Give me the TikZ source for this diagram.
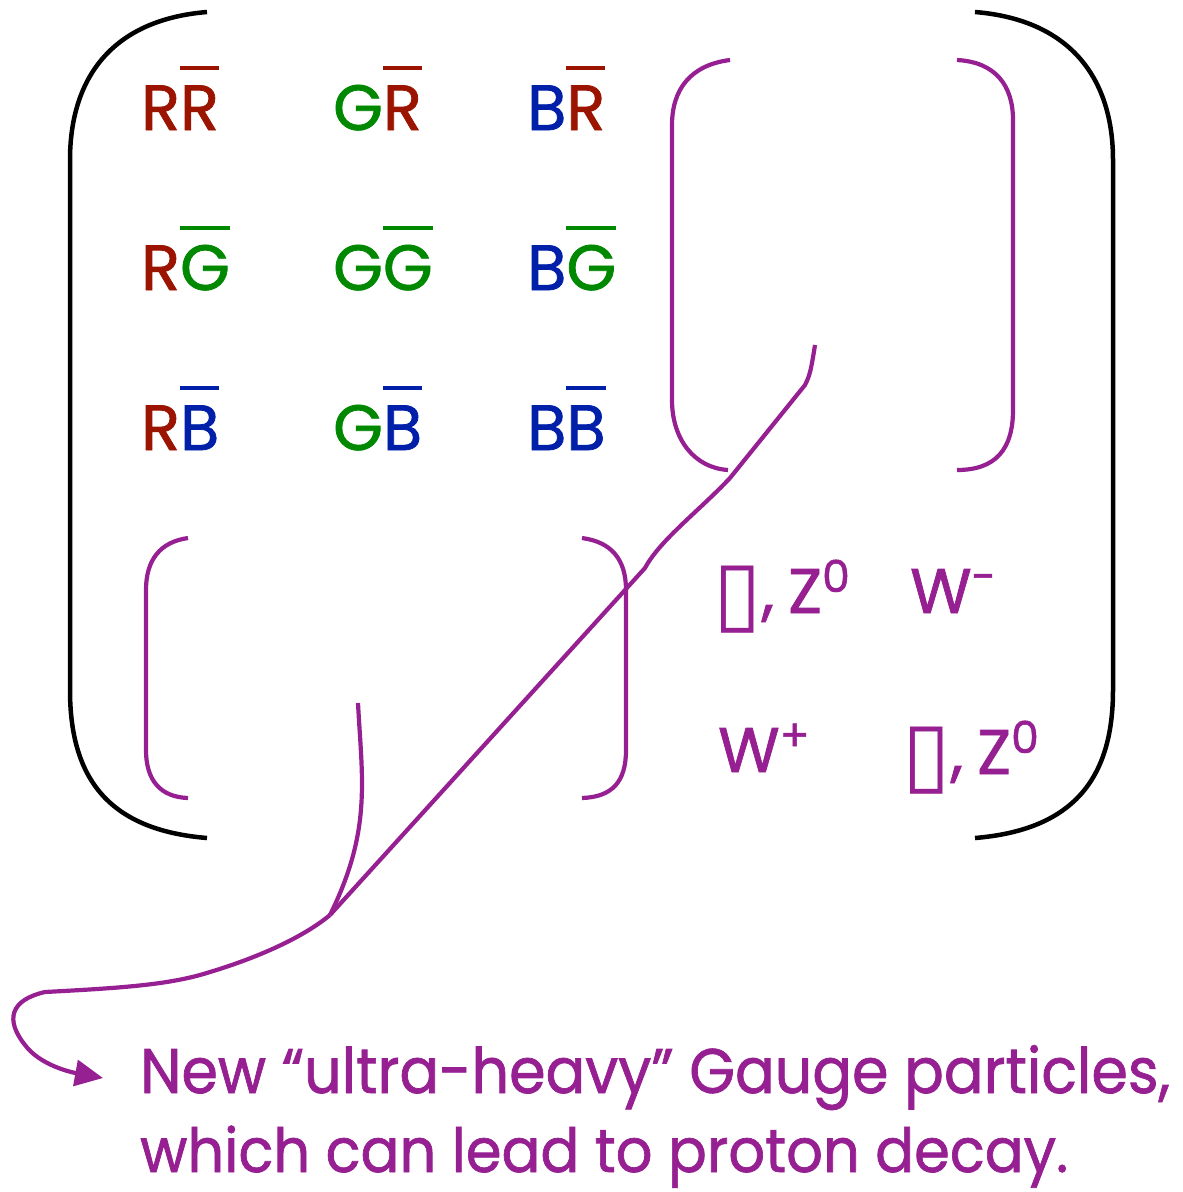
\documentclass[tikz,border=0pt]{standalone}
\usepackage{fontspec}
\setmainfont{Poppins}[FakeBold=1.2]
\newfontfamily\symfont{DejaVu Sans}
\usetikzlibrary{arrows.meta}
\definecolor{cred}{RGB}{155,20,0}
\definecolor{cgreen}{RGB}{0,136,0}
\definecolor{cblue}{RGB}{0,32,170}
\definecolor{cpurp}{RGB}{150,32,145}
\newcommand\obar[1]{\setbox0\hbox{#1}\rlap{\raisebox{60pt}{\rule{\wd0}{4pt}}}\box0}
\newcommand\supx[1]{\raisebox{21pt}{\fontsize{44}{44}\selectfont #1}}
\newcommand\boxg{{\symfont\fontsize{88}{88}\selectfont\raisebox{-9pt}{\char"25AF}}}
\begin{document}
\begin{tikzpicture}[x=1pt,y=-1pt,
  cell/.style={anchor=base west,inner sep=0pt,font=\fontsize{64}{64}\selectfont},
  lab/.style={anchor=base west,inner sep=0pt,text=cpurp,font=\fontsize{63}{63}\selectfont},
  big/.style={draw=black,line width=4.5pt},
  pbr/.style={draw=cpurp,line width=4.2pt},
  conn/.style={draw=cpurp,line width=4.2pt}]
\useasboundingbox (0,0) rectangle (1183,1192);
% black brackets
\path[big] (207,12) .. controls (110,20) and (70,80) .. (70,160) -- (70,690) .. controls (70,780) and (110,830) .. (207,838);
\path[big] (975,12) .. controls (1072,20) and (1113,80) .. (1113,160) -- (1113,690) .. controls (1113,780) and (1072,830) .. (975,838);
% purple brackets top right
\path[pbr] (730,60) .. controls (690,65) and (672,90) .. (672,125) -- (672,400) .. controls (672,440) and (695,468) .. (728,470);
\path[pbr] (957,60) .. controls (995,62) and (1013,85) .. (1013,120) -- (1013,410) .. controls (1013,450) and (995,470) .. (957,470);
% purple brackets lower left
\path[pbr] (188,538) .. controls (160,542) and (146,560) .. (146,590) -- (146,750) .. controls (146,780) and (160,797) .. (188,798);
\path[pbr] (582,538) .. controls (612,542) and (626,560) .. (626,590) -- (626,750) .. controls (626,782) and (612,797) .. (582,798);
% grid
\node[cell] (rr) at (141,130) {\textcolor{cred}{R}\textcolor{cred}{\obar{R}}};
\node[cell] (gr) at (333,130) {\textcolor{cgreen}{G}\textcolor{cred}{\obar{R}}};
\node[cell] (br) at (527,130) {\textcolor{cblue}{B}\textcolor{cred}{\obar{R}}};
\node[cell] (rg) at (141,290) {\textcolor{cred}{R}\textcolor{cgreen}{\obar{G}}};
\node[cell] (gg) at (333,290) {\textcolor{cgreen}{G}\textcolor{cgreen}{\obar{G}}};
\node[cell] (bg) at (527,290) {\textcolor{cblue}{B}\textcolor{cgreen}{\obar{G}}};
\node[cell] (rb) at (141,450) {\textcolor{cred}{R}\textcolor{cblue}{\obar{B}}};
\node[cell] (gb) at (333,450) {\textcolor{cgreen}{G}\textcolor{cblue}{\obar{B}}};
\node[cell] (bb) at (527,450) {\textcolor{cblue}{B}\textcolor{cblue}{\obar{B}}};
% purple labels
\node[lab] (gz1) at (713,613) {\boxg,\hspace{14pt}Z\supx{0}};
\node[lab] (wm) at (910,613) {W\supx{-}};
\node[lab] (wp) at (718,772) {W\supx{+}};
\node[lab] (gz2) at (902,774) {\boxg,\hspace{14pt}Z\supx{0}};
% bottom text
\node[lab] (l1) at (140,1093) {\resizebox{1030pt}{\height}{New “ultra-heavy” Gauge particles,}};
\node[lab,font=\fontsize{61}{61}\selectfont] (l2) at (140,1172) {\resizebox{928pt}{\height}{which can lead to proton decay.}};
% connectors
\coordinate (s1) at (815,345);
\coordinate (s2) at (358,703);
\coordinate (m) at (330,915);
\coordinate (tip) at ([xshift=-37pt,yshift=15pt]l1.base west);
\path[conn] (s1) .. controls (811,370) and (810,375) .. (805,385) -- (730,478) .. controls (700,510) and (660,540) .. (645,568) -- (m);
\path[conn] (s2) .. controls (362,780) and (372,830) .. (m);
\path[conn,-{Triangle[length=28pt,width=26pt]}] (m) .. controls (300,940) and (250,960) .. (210,972) .. controls (170,985) and (120,988) .. (45,992) .. controls (10,1000) and (5,1020) .. (25,1045) .. controls (40,1065) and (70,1072) .. (tip);
\end{tikzpicture}
\end{document}
